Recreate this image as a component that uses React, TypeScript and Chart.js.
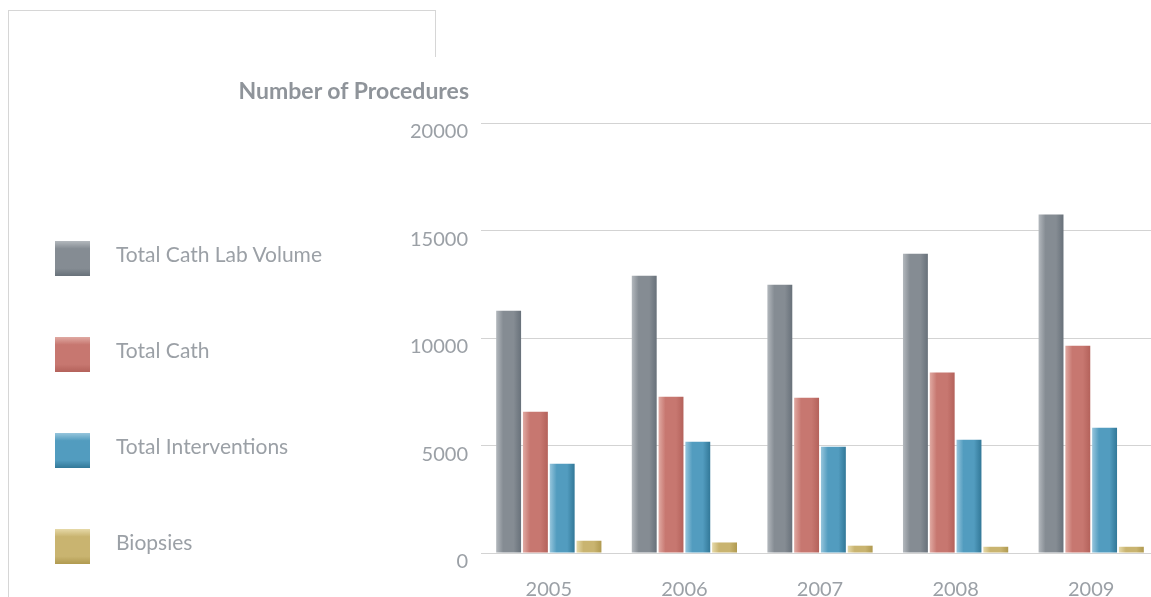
import React, { useEffect, useRef } from "react";
import { Chart, registerables } from "chart.js";

Chart.register(...registerables);

const years = ["2005", "2006", "2007", "2008", "2009"];
const seriesNames = ["Total Cath Lab Volume", "Total Cath", "Total Interventions", "Biopsies"];
const totalCathLabVolume = [11270, 12900, 12480, 13920, 15740];
const totalCath = [6570, 7270, 7220, 8390, 9640];
const totalInterventions = [4150, 5180, 4940, 5270, 5830];
const biopsies = [570, 490, 340, 290, 290];
const yTickValues = [0, 5000, 10000, 15000, 20000];

const mainColors = ["#858c93", "#c77770", "#529cbf", "#c9b470"];
const lightColors = ["#b3b8bd", "#e0a9a2", "#96c5dc", "#e6d9a8"];
const darkColors = ["#68717a", "#b4625b", "#327898", "#b09a50"];

const CAT_PCT = 0.79;
const BAR_PCT = 0.93;
const FONT = "Lato, 'Open Sans', 'DejaVu Sans', sans-serif";
const TEXT_COLOR = "#9ba0a6";

export default function App() {
  const canvasRef = useRef<HTMLCanvasElement | null>(null);

  useEffect(() => {
    const canvas = canvasRef.current;
    if (!canvas) return;
    const seriesValues = [totalCathLabVolume, totalCath, totalInterventions, biopsies];

    const makeBg = (di: number) => (ctx: any) => {
      const chart = ctx.chart;
      const xs = chart.scales && chart.scales.x;
      if (!xs || ctx.type !== "data" || !xs.width) return mainColors[di];
      const catW = xs.width / years.length;
      const size = catW * CAT_PCT;
      const chunk = size / seriesNames.length;
      const bw = chunk * BAR_PCT;
      const center = xs.getPixelForValue(ctx.dataIndex) - size / 2 + chunk * (di + 0.5);
      const g = chart.ctx.createLinearGradient(center - bw / 2, 0, center + bw / 2, 0);
      g.addColorStop(0, lightColors[di]);
      g.addColorStop(0.28, mainColors[di]);
      g.addColorStop(0.7, mainColors[di]);
      g.addColorStop(1, darkColors[di]);
      return g;
    };

    const chart = new Chart(canvas, {
      type: "bar",
      data: {
        labels: years,
        datasets: seriesNames.map((name, i) => ({
          label: name,
          data: seriesValues[i],
          backgroundColor: makeBg(i),
          borderWidth: 0,
          categoryPercentage: CAT_PCT,
          barPercentage: BAR_PCT,
        })),
      },
      options: {
        responsive: false,
        animation: false,
        devicePixelRatio: 1,
        layout: { padding: { top: 123, left: 0, right: 0, bottom: 0 } },
        plugins: { legend: { display: false }, tooltip: { enabled: false } },
        scales: {
          x: {
            grid: { display: false },
            border: { display: false },
            ticks: {
              color: TEXT_COLOR,
              font: { family: FONT, size: 20 },
              padding: 17,
              maxRotation: 0,
            },
            afterFit: (s: any) => {
              s.height = 44;
            },
          },
          y: {
            min: 0,
            max: 20000,
            border: { display: false },
            grid: { color: "#d3d3d3", lineWidth: 1, drawTicks: false },
            afterBuildTicks: (s: any) => {
              s.ticks = yTickValues.map((v) => ({ value: v }));
            },
            ticks: {
              color: TEXT_COLOR,
              font: { family: FONT, size: 20 },
              padding: 13,
              labelOffset: 9,
              callback: (v: any) => String(v),
            },
            afterFit: (s: any) => {
              s.width = 481;
            },
          },
        },
      },
    });
    return () => chart.destroy();
  }, []);

  const line = "#d6d6d6";
  return (
    <div
      style={{
        position: "fixed",
        left: 0,
        top: 0,
        width: 1151,
        height: 597,
        overflow: "hidden",
        background: "#ffffff",
        fontFamily: FONT,
      }}
    >
      <canvas
        ref={canvasRef}
        width={1159}
        height={597}
        style={{ position: "absolute", left: 0, top: 0, width: 1159, height: 597, display: "block" }}
      />
      <div style={{ position: "absolute", left: 8, top: 10, width: 427, height: 1, background: line }} />
      <div style={{ position: "absolute", left: 8, top: 10, width: 1, height: 590, background: line }} />
      <div style={{ position: "absolute", left: 435, top: 10, width: 1, height: 47, background: line }} />
      <div
        style={{
          position: "absolute",
          left: 0,
          top: 76,
          width: 469,
          textAlign: "right",
          fontSize: 23,
          lineHeight: "28px",
          fontWeight: 700,
          color: "#8f949a",
          whiteSpace: "nowrap",
        }}
      >
        Number of Procedures
      </div>
      {seriesNames.map((name, i) => (
        <React.Fragment key={name}>
          <div
            style={{
              position: "absolute",
              left: 55,
              top: 241 + i * 96,
              width: 35,
              height: 35,
              background: `linear-gradient(to bottom, ${lightColors[i]} 0%, ${mainColors[i]} 22%, ${mainColors[i]} 78%, ${darkColors[i]} 100%)`,
            }}
          />
          <div
            style={{
              position: "absolute",
              left: 116,
              top: 241 + i * 96 - 1,
              height: 28,
              lineHeight: "28px",
              fontSize: 21,
              color: TEXT_COLOR,
              whiteSpace: "nowrap",
            }}
          >
            {name}
          </div>
        </React.Fragment>
      ))}
    </div>
  );
}
